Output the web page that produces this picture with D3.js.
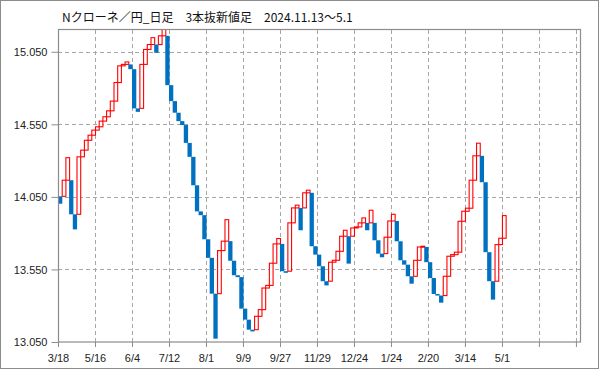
<!DOCTYPE html>
<html>
<head>
<meta charset="utf-8">
<script src="https://cdn.jsdelivr.net/npm/d3@7"></script>
<style>
  html, body { margin: 0; padding: 0; background: #fff; }
  svg { display: block; }
  .title { font-family: "Noto Sans CJK JP", "Noto Sans", sans-serif; font-size: 12px; fill: #111; }
  .tick-label { font-family: "Liberation Sans", "DejaVu Sans", sans-serif; font-size: 11px; fill: #222; }
</style>
</head>
<body>
<svg id="chart" width="599" height="369"></svg>
<script>
const TITLE = "Nクローネ／円_日足　3本抜新値足　2024.11.13～5.1";

// first brick opening price, then the close of every brick in order
const FIRST_OPEN = 14.054;
const closes = [
  14.003, 14.165, 14.32, 13.93, 13.826, 14.326, 14.372, 14.44, 14.475, 14.51,
  14.533, 14.572, 14.602, 14.643, 14.71, 14.838, 14.953, 14.963, 14.98, 14.93,
  14.66, 14.636, 14.963, 15.066, 15.10, 15.147, 15.043, 15.16, 15.25, 14.82,
  14.71, 14.63, 14.572, 14.545, 14.422, 14.326, 14.13, 13.95, 13.924, 13.758,
  13.63, 13.383, 13.073, 13.68, 13.745, 13.893, 13.61, 13.51, 13.497, 13.28,
  13.204, 13.135, 13.123, 13.227, 13.273, 13.422, 13.44, 13.593, 13.726, 13.763,
  13.538, 13.527, 13.871, 13.974, 13.993, 13.82, 14.078, 14.096, 13.71, 13.652,
  13.572, 13.469, 13.44, 13.6, 13.613, 13.675, 13.779, 13.82, 13.59, 13.836,
  13.843, 13.871, 13.905, 13.82, 13.958, 13.751, 13.659, 13.634, 13.772, 13.884,
  13.93, 13.744, 13.613, 13.583, 13.503, 13.452, 13.613, 13.705, 13.71, 13.6,
  13.491, 13.381, 13.37, 13.321, 13.503, 13.641, 13.652, 13.669, 13.882, 13.951,
  13.972, 14.165, 14.333, 14.42, 14.151, 13.669, 13.469, 13.342, 13.721, 13.765,
  13.921
];

const dateLabels = ["3/18", "5/16", "6/4", "7/12", "8/1", "9/9", "9/27", "11/29", "12/24", "1/24", "2/20", "3/14", "5/1"];
const yTickValues = [13.05, 13.55, 14.05, 14.55, 15.05];
const SLOT_COUNT = 141.1;
const Y_MIN = 13.05;
const Y_MAX = 15.2;

const plot = { left: 58, right: 580, top: 30, bottom: 342 };
const colors = { up: "#ff0000", down: "#0070c0", grid: "#a6a6a6", axis: "#8c8c8c" };

const svg = d3.select("#chart");

const x = d3.scaleLinear().domain([0, SLOT_COUNT]).range([plot.left, plot.right]);
const y = d3.scaleLinear().domain([Y_MIN, Y_MAX]).range([plot.bottom, plot.top]);

drawFrame();
drawGrid();
drawBricks();
drawAxes();
drawTitle();

function buildBricks() {
  // line break rule: same direction opens at last close, reversal opens at last open
  const bricks = [];
  let prevOpen = FIRST_OPEN;
  let prevClose = null;
  let prevUp = null;
  closes.forEach((c, i) => {
    let open, up;
    if (i === 0) {
      open = FIRST_OPEN;
      up = c > open;
    } else {
      up = c > prevClose;
      open = up === prevUp ? prevClose : prevOpen;
    }
    bricks.push({ i, open, close: c, up });
    prevOpen = open;
    prevClose = c;
    prevUp = up;
  });
  return bricks;
}

function drawFrame() {
  svg.append("rect")
    .attr("x", 0.5).attr("y", 0.5)
    .attr("width", 598).attr("height", 368)
    .attr("fill", "#fff")
    .attr("stroke", "#8c8c8c");
}

function drawGrid() {
  const g = svg.append("g");
  g.selectAll(".hgrid")
    .data(yTickValues.filter((v) => v > Y_MIN))
    .join("line")
    .attr("x1", plot.left).attr("x2", plot.right)
    .attr("y1", (d) => Math.round(y(d)) + 0.5)
    .attr("y2", (d) => Math.round(y(d)) + 0.5)
    .attr("stroke", colors.grid)
    .attr("stroke-dasharray", "4,3");

  const vTicks = d3.range(10, 141, 10);
  g.selectAll(".vgrid")
    .data(vTicks)
    .join("line")
    .attr("x1", (d) => Math.round(x(d)) + 0.5)
    .attr("x2", (d) => Math.round(x(d)) + 0.5)
    .attr("y1", plot.top).attr("y2", plot.bottom)
    .attr("stroke", colors.grid)
    .attr("stroke-dasharray", "4,3");
}

function drawBricks() {
  svg.append("clipPath")
    .attr("id", "plot-clip")
    .append("rect")
    .attr("x", plot.left).attr("y", plot.top)
    .attr("width", plot.right - plot.left)
    .attr("height", plot.bottom - plot.top);

  const bricks = buildBricks();
  const g = svg.append("g").attr("clip-path", "url(#plot-clip)");

  g.selectAll(".brick")
    .data(bricks)
    .join("rect")
    .attr("x", (d) => x(d.i) + (d.up ? 0.5 : 0))
    .attr("width", (d) => x(d.i + 1) - x(d.i) + (d.up ? 0 : 0.6))
    .attr("y", (d) => y(Math.max(d.open, d.close)))
    .attr("height", (d) => Math.max(1, Math.abs(y(d.open) - y(d.close))))
    .attr("fill", (d) => d.up ? "#fff" : colors.down)
    .attr("stroke", (d) => d.up ? colors.up : "none")
    .attr("stroke-width", 1.1);
}

function drawAxes() {
  const frame = svg.append("rect")
    .attr("x", plot.left + 0.5).attr("y", plot.top - 0.5)
    .attr("width", plot.right - plot.left)
    .attr("height", plot.bottom - plot.top + 0.5)
    .attr("fill", "none")
    .attr("stroke", colors.axis)
    .attr("stroke-width", 1.2);

  const yAxis = d3.axisLeft(y)
    .tickValues(yTickValues)
    .tickSize(7)
    .tickFormat(d3.format(".3f"));
  const yg = svg.append("g")
    .attr("transform", `translate(${plot.left + 0.5},0)`)
    .call(yAxis);
  yg.select(".domain").remove();
  yg.selectAll(".tick line").attr("stroke", colors.axis);
  yg.selectAll(".tick text")
    .attr("class", "tick-label")
    .attr("x", -11)
    .attr("dy", "0.35em");

  const xTicks = d3.range(0, 141, 10);
  const xAxis = d3.axisBottom(x)
    .tickValues(xTicks)
    .tickSize(5)
    .tickFormat((d) => dateLabels[d / 10] || "");
  const xg = svg.append("g")
    .attr("transform", `translate(0,${plot.bottom})`)
    .call(xAxis);
  xg.select(".domain").remove();
  xg.selectAll(".tick line").attr("stroke", colors.axis);
  xg.selectAll(".tick text")
    .attr("class", "tick-label")
    .attr("y", 12)
    .attr("dy", "0.71em");
}

function drawTitle() {
  svg.append("text")
    .attr("class", "title")
    .attr("x", 62)
    .attr("y", 22)
    .text(TITLE);
}
</script>
</body>
</html>
